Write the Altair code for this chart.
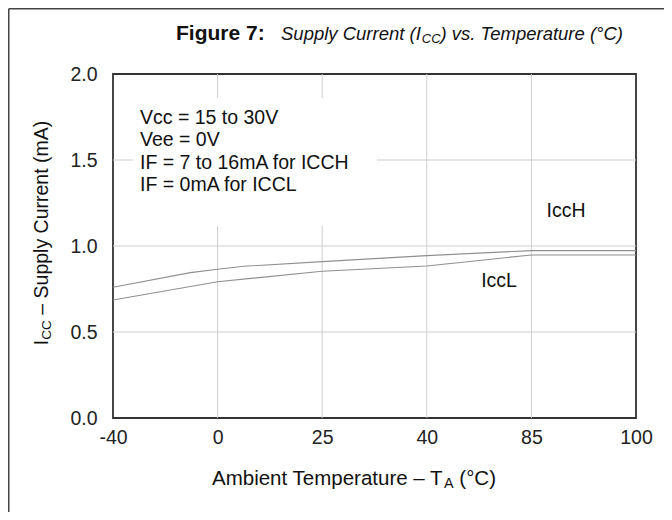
import altair as alt
import pandas as pd

# ---- data ----
temp_labels = ["-40", "0", "25", "40", "85", "100"]   # evenly spaced category ticks
tick_pos = [0, 1, 2, 3, 4, 5]

icch_pos = [0, 0.74, 1, 1.25, 2, 3, 4, 5]
icch_val = [0.76, 0.845, 0.865, 0.882, 0.909, 0.944, 0.973, 0.973]

iccl_pos = [0, 1, 2, 3, 4, 5]
iccl_val = [0.686, 0.792, 0.853, 0.884, 0.948, 0.948]

y_ticks = [0.0, 0.5, 1.0, 1.5, 2.0]
y_grid = [0.5, 1.0, 1.5]
x_grid = [1, 2, 3, 4]

notes = ["Vcc = 15 to 30V", "Vee = 0V", "IF = 7 to 16mA for ICCH", "IF = 0mA for ICCL"]

# ---- layout ----
W, H = 523, 344
OX, OY = 113, 74          # plot origin on the page
FONT = "Liberation Sans"

AW = {' ': 278, '(': 333, ')': 333, '-': 333, '.': 278, ':': 278, '=': 584,
      'A': 667, 'C': 722, 'I': 278, 'S': 667, 'T': 611, 'F': 611,
      'a': 556, 'b': 556, 'c': 500, 'e': 556, 'g': 556, 'i': 222, 'l': 222,
      'm': 833, 'n': 556, 'p': 556, 'r': 333, 's': 500, 't': 278, 'u': 556,
      'v': 500, 'y': 500, '–': 556, '°': 400, '7': 556}


def tw(s, size):
    return sum(AW.get(c, 556) for c in s) / 1000.0 * size


rows = []
rows += [{"pos": p, "val": v, "series": "IccH"} for p, v in zip(icch_pos, icch_val)]
rows += [{"pos": p, "val": v, "series": "IccL"} for p, v in zip(iccl_pos, iccl_val)]
df = pd.DataFrame(rows)

one = pd.DataFrame({"k": [0]})

xs = alt.Scale(domain=[0, 5], nice=False, zero=False)
ys = alt.Scale(domain=[0, 2], nice=False, zero=False)

label_expr = "[" + ",".join("'%s'" % t for t in temp_labels) + "][datum.value]"

gh = alt.Chart(pd.DataFrame({"g": y_grid})).mark_rule(color="#cfcfcf", strokeWidth=1).encode(
    y=alt.Y("g:Q", scale=ys, axis=alt.Axis(values=y_ticks, format=".1f", title=None,
                                           grid=False, domain=False, ticks=False,
                                           labelFont=FONT, labelFontSize=19.5, labelColor="#222",
                                           labelPadding=16, labelFlush=False)))
gv = alt.Chart(pd.DataFrame({"g": x_grid})).mark_rule(color="#cfcfcf", strokeWidth=1).encode(
    x=alt.X("g:Q", scale=xs, axis=alt.Axis(values=tick_pos, labelExpr=label_expr, title=None,
                                           grid=False, domain=False, ticks=False,
                                           labelFont=FONT, labelFontSize=19.5, labelColor="#222",
                                           labelPadding=10, labelFlush=False)))

# white box behind the notes
box = alt.Chart(one).mark_rect(color="white").encode(
    x=alt.value(133 - OX), x2=alt.value(377 - OX),
    y=alt.value(98 - OY), y2=alt.value(226 - OY))

lines = alt.Chart(df).mark_line(color="#8f8f8f", strokeWidth=1.1).encode(
    x=alt.X("pos:Q", scale=xs), y=alt.Y("val:Q", scale=ys), detail="series:N")

layers = [gh, gv, box, lines]


def txt(text, x, y, size, **kw):
    props = dict(text=text, font=FONT, fontSize=size, color="#111")
    props.update(kw)
    return alt.Chart(one).mark_text(**props).encode(x=alt.value(x), y=alt.value(y))


# notes
for i, t in enumerate(notes):
    layers.append(txt(t, 140 - OX, 117.5 + 22.5 * i - OY, 19.5, align="left", baseline="middle"))

# series labels
layers.append(txt("IccH", 566 - OX, 211 - OY, 19.5, baseline="middle"))
layers.append(txt("IccL", 499 - OX, 281 - OY, 19.5, baseline="middle"))

# title
tb = 40 - OY
layers.append(txt("Figure 7:", 176 - OX, tb, 21, fontWeight="bold", align="left", baseline="alphabetic"))
seg1, seg2, seg3 = "Supply Current (I", "CC", ") vs. Temperature (°C)"
tsz = 18.5
tx = 281 - OX
layers.append(txt(seg1, tx, tb, tsz, fontStyle="italic", align="left", baseline="alphabetic"))
tx2 = tx + tw(seg1, tsz) + 1
layers.append(txt(seg2, tx2, tb + 3, tsz * 0.7, fontStyle="italic", align="left", baseline="alphabetic"))
tx3 = tx2 + tw(seg2, tsz * 0.7)
layers.append(txt(seg3, tx3, tb, tsz, fontStyle="italic", align="left", baseline="alphabetic"))

# x axis title: "Ambient Temperature – T" + sub "A" + " (°C)"
xsz = 20.5
xa, xb, xc = "Ambient Temperature – T", "A", "(°C)"
xt_total = tw(xa, xsz) + tw(xb, xsz * 0.7) + tw(" " + xc, xsz) - 1.5
xx = (354 - OX) - xt_total / 2
xy = 485 - OY
layers.append(txt(xa, xx, xy, xsz, align="left", baseline="alphabetic"))
xx2 = xx + tw(xa, xsz) - 1.5
layers.append(txt(xb, xx2, xy + 2.5, xsz * 0.7, align="left", baseline="alphabetic"))
xx3 = xx2 + tw(xb, xsz * 0.7) + tw(" ", xsz)
layers.append(txt(xc, xx3, xy, xsz, align="left", baseline="alphabetic"))

# y axis title (rotated): "I" + sub "CC" + " – Supply Current (mA)"
ysz = 19.5
ya, yb, yc = "I", "CC", "– Supply Current (mA)"
yt_total = tw(ya, ysz) + tw(yb, ysz * 0.7) + tw(" " + yc, ysz)
ybase = 48 - OX
ystart = (233 - OY) + yt_total / 2
layers.append(txt(ya, ybase, ystart, ysz, angle=270, align="left", baseline="alphabetic"))
ys2 = ystart - tw(ya, ysz)
layers.append(txt(yb, ybase + 2.5, ys2, ysz * 0.7, angle=270, align="left", baseline="alphabetic"))
ys3 = ys2 - tw(yb, ysz * 0.7) - tw(" ", ysz)
layers.append(txt(yc, ybase, ys3, ysz, angle=270, align="left", baseline="alphabetic"))

# outer frame lines (top and left)
layers.append(alt.Chart(one).mark_rule(color="#444", strokeWidth=1.5).encode(
    x=alt.value(8.75 - OX), x2=alt.value(672 - OX), y=alt.value(8.75 - OY)))
layers.append(alt.Chart(one).mark_rule(color="#444", strokeWidth=1.5).encode(
    x=alt.value(8.75 - OX), y=alt.value(8.75 - OY), y2=alt.value(520 - OY)))

chart = alt.layer(*layers).properties(
    width=W, height=H,
    autosize=alt.AutoSizeParams(type="none"),
    padding={"left": OX - 8, "top": OY - 8, "right": 672 - 8 - (OX + W), "bottom": 520 - 8 - (OY + H)},
    background="white",
).configure_view(stroke="#333", strokeWidth=1.8)

chart.save("out.html", embed_options={"renderer": "svg", "actions": False})
